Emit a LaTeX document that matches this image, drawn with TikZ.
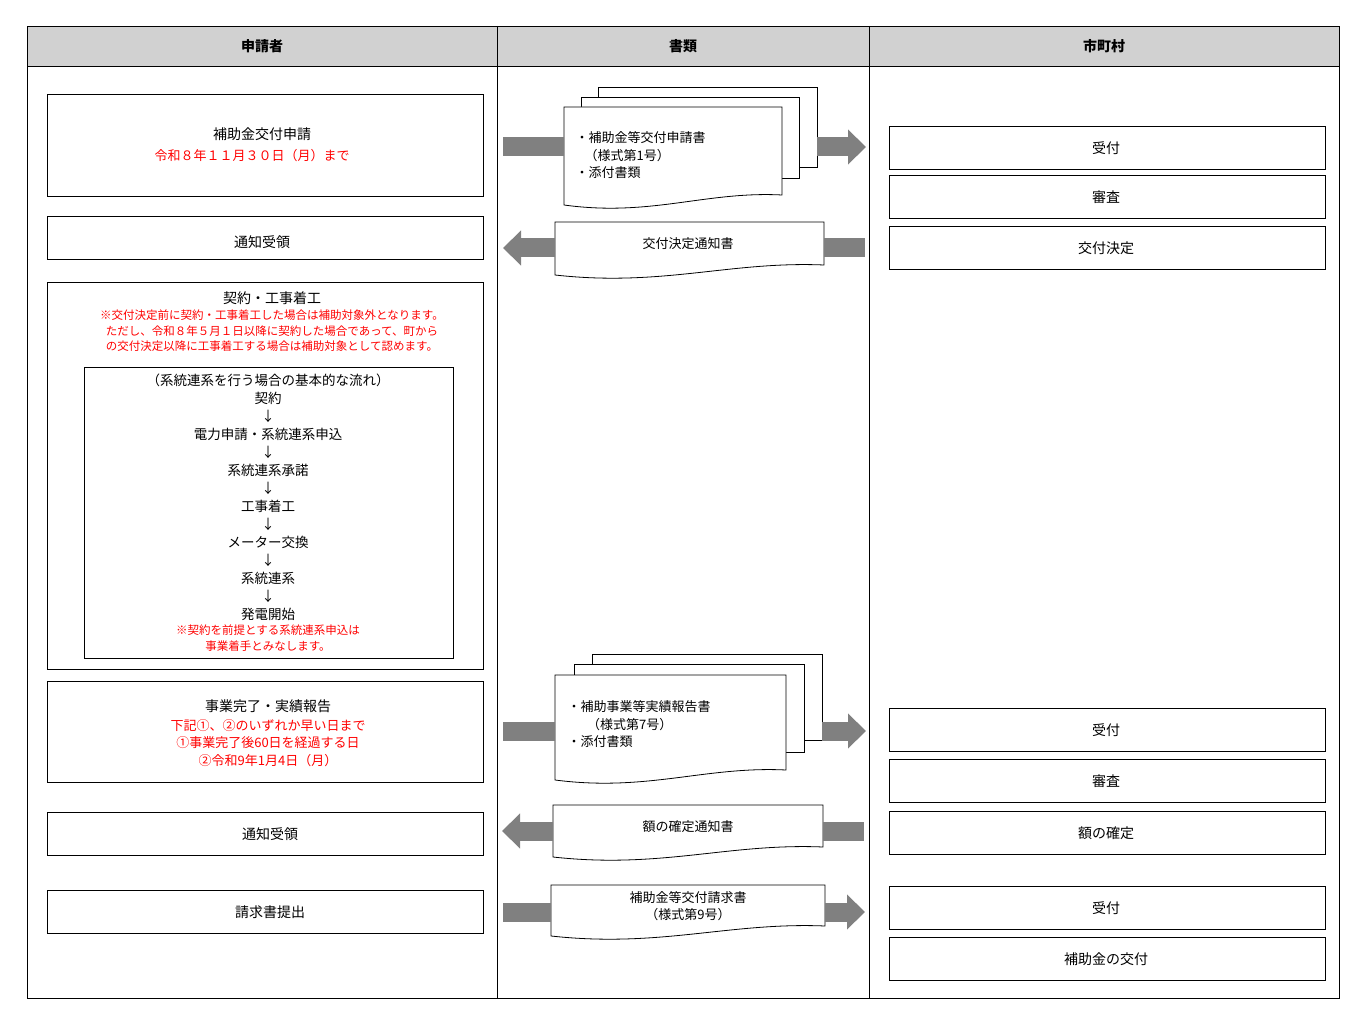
\documentclass[tikz,border=0pt]{standalone}
\usepackage{fontspec}
\setmainfont{Noto Sans CJK JP}
\usetikzlibrary{arrows.meta, positioning}
\definecolor{headgray}{gray}{0.82}
\definecolor{arrowgray}{gray}{0.5}
\tikzset{
x=1pt, y=-1pt,
box/.style={draw, line width=0.8pt, inner sep=0pt}, % step boxes in the lanes
txt/.style={font=\fontsize{14}{16}\selectfont},
red/.style={text=red, font=\fontsize{13}{15}\selectfont},
small/.style={text=red, font=\fontsize{11.5}{15.5}\selectfont, align=center},
doc/.style={draw, fill=white, line width=0.8pt},
flow/.style={line width=19pt, draw=arrowgray},
tip/.style={-{Triangle[width=34pt,length=18pt]}},
}
% document with wavy lower edge: name, x1, y1, x2, y2
\newcommand\wavydoc[5]{%
  \draw[doc] (#2,#3) -- (#4,#3) -- (#4,#5-10)
    .. controls ({#4-0.35*(#4-#2)},#5-14) and ({#2+0.4*(#4-#2)},#5+12) .. (#2,#5) -- cycle;
  \coordinate (#1-w) at (#2,{(#3+#5)/2});
  \coordinate (#1-e) at (#4,{(#3+#5)/2});
}
\begin{document}
\begin{tikzpicture}
\useasboundingbox (0,0) rectangle (1366,1024);
% lanes
\fill[headgray] (27,26) rectangle (1339,66);
\draw[line width=0.8pt] (27,26) rectangle (1339,998);
\draw[line width=0.8pt] (27,66) -- (1339,66) (497,26) -- (497,998) (869,26) -- (869,998);
\node[txt, font=\fontsize{14}{16}\selectfont\bfseries] (h1) at (262,46) {申請者};
\node[txt, font=\fontsize{14}{16}\selectfont\bfseries] (h2) at (683,46) {書類};
\node[txt, font=\fontsize{14}{16}\selectfont\bfseries] (h3) at (1104,46) {市町村};

% applicant column
\draw[box] (47,94) rectangle (483,196);
\node[txt] (apply) at (262,134) {補助金交付申請};
\node[red] (due1) at (252,156) {令和８年１１月３０日（月）まで};
\draw[box] (47,216) rectangle (483,259);
\node[txt] (recv1) at (262,242) {通知受領};
\draw[box] (47,282) rectangle (483,669);
\node[txt] (contract) at (272,298) {契約・工事着工};
\node[small, font=\fontsize{11.5}{15.5}\selectfont] (note1) at (272,331)
  {※交付決定前に契約・工事着工した場合は補助対象外となります。\\
   ただし、令和８年５月１日以降に契約した場合であって、町から\\
   の交付決定以降に工事着工する場合は補助対象として認めます。};
\draw[box] (84,367) rectangle (453,658);
\node[txt, align=center, font=\fontsize{13.5}{18}\selectfont] (steps) at (268,497)
  {（系統連系を行う場合の基本的な流れ）\\契約\\↓\\電力申請・系統連系申込\\↓\\系統連系承諾\\↓\\工事着工\\↓\\メーター交換\\↓\\系統連系\\↓\\発電開始};
\node[small] (note2) at (268,638) {※契約を前提とする系統連系申込は\\事業着手とみなします。};
\draw[box] (47,681) rectangle (483,782);
\node[txt] (report) at (268,706) {事業完了・実績報告};
\node[red, align=center, font=\fontsize{13}{17.5}\selectfont] (due2) at (268,743)
  {下記①、②のいずれか早い日まで\\①事業完了後60日を経過する日\\②令和9年1月4日（月）};
\draw[box] (47,812) rectangle (483,855);
\node[txt] (recv2) at (270,834) {通知受領};
\draw[box] (47,890) rectangle (483,933);
\node[txt] (bill) at (270,912) {請求書提出};

% documents column
\draw[doc] (598,87) rectangle (817,167);
\draw[doc] (581,97) rectangle (799,178);
\wavydoc{d1}{564}{107}{782}{205}
\node[txt, align=left, anchor=north west, font=\fontsize{13}{17.5}\selectfont] (d1t) at (572,128)
  {・補助金等交付申請書\\\hspace{0.7em}（様式第1号）\\・添付書類};
\wavydoc{d2}{555}{222}{824}{275}
\node[txt, font=\fontsize{13}{15}\selectfont] (d2t) at (688,244) {交付決定通知書};
\draw[doc] (592,654) rectangle (822,740);
\draw[doc] (574,664) rectangle (804,752);
\wavydoc{d3}{555}{675}{786}{780}
\node[txt, align=left, anchor=north west, font=\fontsize{13}{17.5}\selectfont] (d3t) at (564,697)
  {・補助事業等実績報告書\\\hspace{1.5em}（様式第7号）\\・添付書類};
\wavydoc{d4}{553}{805}{823}{857}
\node[txt, font=\fontsize{13}{15}\selectfont] (d4t) at (688,827) {額の確定通知書};
\wavydoc{d5}{551}{885}{825}{936}
\node[txt, align=center, font=\fontsize{13}{17.5}\selectfont] (d5t) at (688,906) {補助金等交付請求書\\（様式第9号）};

% flow arrows
\coordinate (a1) at (503,147); \coordinate (b1) at (866,147);
\coordinate (a2) at (503,248); \coordinate (b2) at (865,248);
\coordinate (a3) at (503,731); \coordinate (b3) at (866,731);
\coordinate (a4) at (502,831); \coordinate (b4) at (864,831);
\coordinate (a5) at (503,912); \coordinate (b5) at (865,912);
\begin{scope}[on background layer/.style={}]
\draw[flow] (a1) -- (564,147);
\draw[flow, tip] (817,147) -- (b1);
\draw[flow, tip] (d2-w |- a2) -- (a2);
\draw[flow] (d2-e |- b2) -- (b2);
\draw[flow] (a3) -- (555,731);
\draw[flow, tip] (822,731) -- (b3);
\draw[flow, tip] (d4-w |- a4) -- (a4);
\draw[flow] (d4-e |- b4) -- (b4);
\draw[flow] (a5) -- (d5-w |- a5);
\draw[flow, tip] (d5-e |- b5) -- (b5);
\end{scope}

% municipality column
\foreach \top/\lab in {126/受付, 175/審査, 226/交付決定, 708/受付, 759/審査, 811/額の確定, 886/受付, 937/補助金の交付} {
  \draw[box] (889,\top) rectangle (1325,\top+43);
  \node[txt] at (1106,\top+22) {\lab};
}
\end{tikzpicture}
\end{document}
